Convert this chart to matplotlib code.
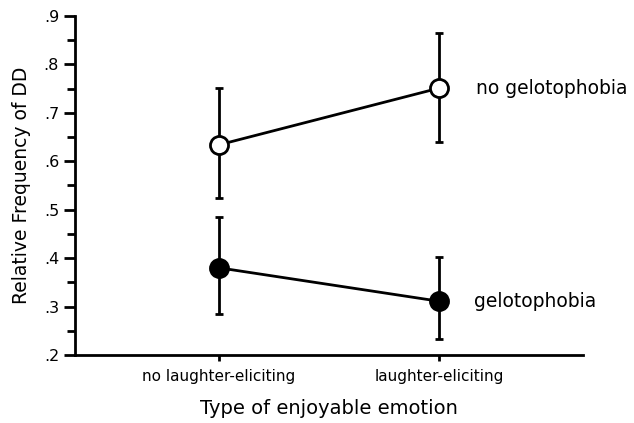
import numpy as np
import matplotlib.pyplot as plt
from matplotlib.ticker import MultipleLocator, FuncFormatter

conditions = ['no laughter-eliciting', 'laughter-eliciting']
no_gelo = [0.634, 0.751]
no_gelo_upper = [0.751, 0.864]
no_gelo_lower = [0.524, 0.640]
gelo = [0.380, 0.311]
gelo_upper = [0.485, 0.403]
gelo_lower = [0.285, 0.232]

x = np.arange(len(conditions))

fig = plt.figure(figsize=(6.34, 4.23), dpi=100)
ax = fig.add_axes([0.1183, 0.1608, 0.8013, 0.8014])

def err(m, lo, hi):
    m = np.array(m)
    return [m - np.array(lo), np.array(hi) - m]

ax.errorbar(x, no_gelo, yerr=err(no_gelo, no_gelo_lower, no_gelo_upper),
            color='black', lw=2, elinewidth=2, capsize=3, capthick=2,
            marker='o', markersize=13, markerfacecolor='white',
            markeredgecolor='black', markeredgewidth=2, zorder=3)
ax.errorbar(x, gelo, yerr=err(gelo, gelo_lower, gelo_upper),
            color='black', lw=2, elinewidth=2, capsize=3, capthick=2,
            marker='o', markersize=13, markerfacecolor='black',
            markeredgecolor='black', markeredgewidth=2, zorder=3)

ax.text(x[1] + 0.17, no_gelo[1], 'no gelotophobia', fontsize=13.5, va='center', ha='left')
ax.text(x[1] + 0.16, gelo[1], 'gelotophobia', fontsize=13.5, va='center', ha='left')

ax.set_xlim(-0.655, 1.655)
ax.set_ylim(0.2, 0.9)
ax.set_xticks(x)
ax.set_xticklabels(conditions, fontsize=11)
ax.yaxis.set_major_locator(MultipleLocator(0.1))
ax.yaxis.set_minor_locator(MultipleLocator(0.05))
ax.yaxis.set_major_formatter(FuncFormatter(lambda v, p: ('%.1f' % v).lstrip('0')))
ax.tick_params(axis='y', which='major', length=8, width=2, labelsize=11.5, direction='out')
ax.tick_params(axis='y', which='minor', length=5.5, width=2, direction='out')
ax.tick_params(axis='x', length=4, width=2, direction='out', pad=6)

for s in ['top', 'right']:
    ax.spines[s].set_visible(False)
for s in ['left', 'bottom']:
    ax.spines[s].set_linewidth(2)

ax.set_xlabel('Type of enjoyable emotion', fontsize=14, labelpad=11)
ax.set_ylabel('Relative Frequency of DD', fontsize=13.5, labelpad=9)

fig.savefig('out.png', dpi=100)
